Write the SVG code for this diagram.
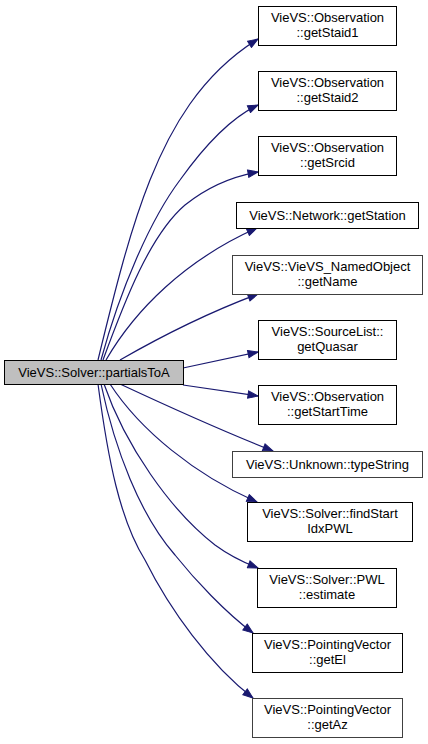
<svg xmlns="http://www.w3.org/2000/svg" width="428" height="744" viewBox="0 0 428 744">
<defs>
<style>
.node rect{fill:#ffffff;stroke:#000000;stroke-width:1}
.node.src rect{fill:#bfbfbf}
.node.grey rect{stroke:#404040}
.node text{font-family:"Liberation Sans",Arial,sans-serif;font-size:13px;fill:#000000;text-anchor:middle}
.edge{fill:none;stroke:#191970;stroke-width:1.2}
</style>
<marker id="arr" markerUnits="userSpaceOnUse" markerWidth="12" markerHeight="9" refX="11" refY="4.5" orient="auto" viewBox="0 0 12 9">
<path d="M1,0.8 L11,4.5 L1,8.2 Z" fill="#191970" stroke="#191970" stroke-width="1"/>
</marker>
</defs>
<rect x="0" y="0" width="428" height="744" fill="#ffffff"/>
<g id="connectors">
<path class="edge" marker-end="url(#arr)" d="M98,360 C115,290 130,230 150,180 C170,130 200,75 258,39"/>
<path class="edge" marker-end="url(#arr)" d="M101,360 C120,290 150,220 180,180 C205,145 230,118 258,105"/>
<path class="edge" marker-end="url(#arr)" d="M103,360 C125,300 150,235 185,205 C210,185 235,176 258,172"/>
<path class="edge" marker-end="url(#arr)" d="M106,360 C135,310 185,260 257,228"/>
<path class="edge" marker-end="url(#arr)" d="M120,360 C160,337 210,312 258,294"/>
<path class="edge" marker-end="url(#arr)" d="M183,368 L258,352"/>
<path class="edge" marker-end="url(#arr)" d="M183,385 L258,396"/>
<path class="edge" marker-end="url(#arr)" d="M120,384 C165,405 225,432 273,451"/>
<path class="edge" marker-end="url(#arr)" d="M110,384 C140,430 195,475 257,502"/>
<path class="edge" marker-end="url(#arr)" d="M104,384 C125,445 170,510 215,545 C230,556 245,563 258,568"/>
<path class="edge" marker-end="url(#arr)" d="M101,384 C115,450 140,515 175,555 C195,580 225,612 253,633"/>
<path class="edge" marker-end="url(#arr)" d="M98,384 C108,460 120,520 145,560 C170,610 210,665 253,698"/>
</g>
<g id="n0" class="node src"><rect x="4.5" y="360.5" width="179" height="24"/><text x="94" y="377">VieVS::Solver::partialsToA</text></g>
<g id="n1" class="node"><rect x="258.5" y="6.5" width="138" height="39"/><text x="327.5" y="21.5">VieVS::Observation</text><text x="327.5" y="36.5">::getStaid1</text></g>
<g id="n2" class="node"><rect x="258.5" y="71.5" width="138" height="39"/><text x="327.5" y="86.5">VieVS::Observation</text><text x="327.5" y="101.5">::getStaid2</text></g>
<g id="n3" class="node"><rect x="258.5" y="136.5" width="138" height="39"/><text x="327.5" y="151.5">VieVS::Observation</text><text x="327.5" y="166.5">::getSrcid</text></g>
<g id="n4" class="node"><rect x="236.5" y="202.5" width="182" height="26"/><text x="327.5" y="220">VieVS::Network::getStation</text></g>
<g id="n5" class="node grey"><rect x="232.5" y="255.5" width="190" height="39"/><text x="327.5" y="270.5">VieVS::VieVS_NamedObject</text><text x="327.5" y="285.5">::getName</text></g>
<g id="n6" class="node"><rect x="258.5" y="320.5" width="138" height="39"/><text x="327.5" y="335.5">VieVS::SourceList::</text><text x="327.5" y="350.5">getQuasar</text></g>
<g id="n7" class="node"><rect x="258.5" y="385.5" width="138" height="39"/><text x="327.5" y="400.5">VieVS::Observation</text><text x="327.5" y="415.5">::getStartTime</text></g>
<g id="n8" class="node grey"><rect x="232.5" y="451.5" width="190" height="26"/><text x="327.5" y="469">VieVS::Unknown::typeString</text></g>
<g id="n9" class="node"><rect x="247.5" y="502.5" width="165" height="39"/><text x="330" y="517.5">VieVS::Solver::findStart</text><text x="330" y="532.5">IdxPWL</text></g>
<g id="n10" class="node"><rect x="257.5" y="568.5" width="139" height="39"/><text x="327" y="583.5">VieVS::Solver::PWL</text><text x="327" y="598.5">::estimate</text></g>
<g id="n11" class="node"><rect x="252.5" y="633.5" width="150" height="39"/><text x="327.5" y="648.5">VieVS::PointingVector</text><text x="327.5" y="663.5">::getEl</text></g>
<g id="n12" class="node grey"><rect x="252.5" y="698.5" width="150" height="39"/><text x="327.5" y="713.5">VieVS::PointingVector</text><text x="327.5" y="728.5">::getAz</text></g>
</svg>
